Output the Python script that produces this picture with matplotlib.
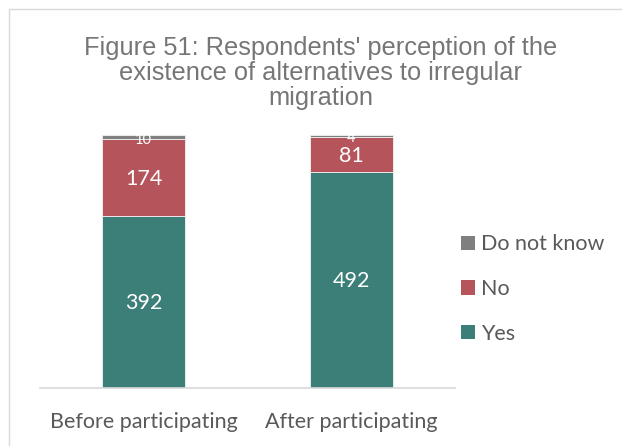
import matplotlib
matplotlib.use("Agg")
import matplotlib.pyplot as plt
from matplotlib.patches import Rectangle

categories = ["Before participating", "After participating"]
series_names = ["Yes", "No", "Do not know"]
yes_counts = [392, 492]
no_counts = [174, 81]
dont_know_counts = [10, 4]
colors = ["#3C7F78", "#B5545A", "#7F7F7F"]

W, H = 622, 446
fig = plt.figure(figsize=(W / 100, H / 100), dpi=100)
fig.patch.set_facecolor("white")

# chart frame
fig.add_artist(Rectangle((9 / W, -0.1), 1.2, (H - 9) / H + 0.1, transform=fig.transFigure,
                         fill=False, edgecolor="#D9D9D9", linewidth=1.0))

ax = fig.add_axes([40 / W, 1 - 387.5 / H, 415 / W, 252.5 / H])
series = [yes_counts, no_counts, dont_know_counts]
totals = [sum(v) for v in zip(*series)]
x = list(range(len(categories)))
bottoms = [0.0] * len(categories)
label_font = "Lato"
for name, vals, col in zip(series_names, series, colors):
    fracs = [v / t for v, t in zip(vals, totals)]
    ax.bar(x, fracs, width=0.4, bottom=bottoms, color=col, label=name,
           edgecolor="#F2F2F2", linewidth=0.6)
    for xi, v, f, b in zip(x, vals, fracs, bottoms):
        small = f < 0.05
        ax.annotate(str(v), (xi, b + f / 2), xytext=(0, -1.8 if small else -0.8),
                    textcoords="offset points", ha="center", va="center",
                    color="white", fontsize=10.5 if small else 15.5,
                    family=label_font, zorder=5)
    bottoms = [b + f for b, f in zip(bottoms, fracs)]

ax.set_xlim(-0.5, len(categories) - 0.5)
ax.set_ylim(0, 1)
for s in ["top", "right", "left"]:
    ax.spines[s].set_visible(False)
ax.spines["bottom"].set_color("#D9D9D9")
ax.spines["bottom"].set_linewidth(1.2)
ax.set_yticks([])
ax.set_xticks(x)
ax.set_xticklabels(categories, family=label_font, fontsize=15.5, color="#595959")
ax.tick_params(axis="x", length=0, pad=18)

fig.text(321 / W, 1 - 73 / H,
         "Figure 51: Respondents' perception of the\nexistence of alternatives to irregular\nmigration",
         ha="center", va="center", family="Liberation Sans", fontsize=18.3,
         color="#767676", linespacing=1.04)

handles, labels = ax.get_legend_handles_labels()
leg = fig.legend(handles[::-1], labels[::-1], loc="center left",
                 bbox_to_anchor=(461 / W, 1 - 289 / H), frameon=False,
                 prop={"family": label_font, "size": 15.5},
                 handlelength=0.65, handleheight=0.65, handletextpad=0.3,
                 labelspacing=1.14, borderaxespad=0, borderpad=0)
for t in leg.get_texts():
    t.set_color("#595959")
for h in leg.legend_handles:
    h.set_edgecolor("none")

fig.savefig("out.png", dpi=100)
